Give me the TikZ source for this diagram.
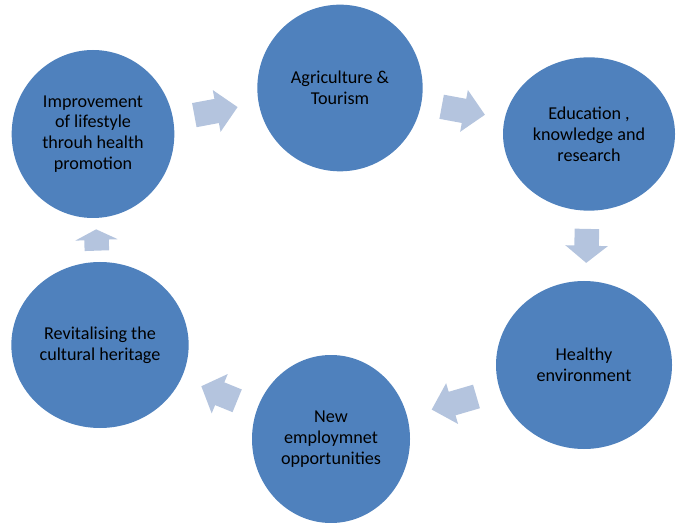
\documentclass[tikz,border=0pt]{standalone}
\usepackage{fontspec}
\setmainfont{Carlito}
\usetikzlibrary{shapes.geometric,shapes.arrows}
\definecolor{circblue}{HTML}{4F81BD}
\definecolor{arrblue}{HTML}{B4C4DE}
\begin{document}
\begin{tikzpicture}[x=0.75pt,y=-0.75pt,
  stage/.style={ellipse,fill=circblue,inner sep=0pt,align=center,font=\fontsize{13.6}{15.6}\selectfont},
  cyc/.style 2 args={single arrow,fill=arrblue,inner xsep=0pt,inner ysep=9pt,minimum width=31.5pt,
    single arrow head extend=6.75pt,minimum height=#1,single arrow tip angle=#2,pos=0.43,sloped,allow upside down}]
\useasboundingbox (0,0) rectangle (680,523);
% Draw the six stages of the cycle
\node[stage,minimum width=122pt,minimum height=126pt] (imp) at (93,134) {Improvement\\of lifestyle\\throuh health\\promotion};
\node[stage,minimum width=124pt,minimum height=125pt] (agr) at (340,88) {Agriculture \&\\Tourism};
\node[stage,minimum width=129pt,minimum height=115pt] (edu) at (589,134) {Education ,\\knowledge and\\research};
\node[stage,minimum width=132pt,minimum height=126pt] (hea) at (584,365) {Healthy\\environment};
\node[stage,minimum width=118.5pt,minimum height=126pt] (new) at (331,439) {New\\employmnet\\opportunities};
\node[stage,minimum width=133pt,minimum height=124.5pt] (rev) at (100,345) {Revitalising the\\cultural heritage};

% Block arrows in the gaps
\path (imp) -- node[cyc={33pt}{90}] (a1) {} (agr);
\path (agr) -- node[cyc={33pt}{90}] (a2) {} (edu);
\path (edu) -- node[cyc={25.5pt}{102}] (a3) {} (hea);
\path (hea) -- node[cyc={35pt}{90}] (a4) {} (new);
\path (new) -- node[cyc={29pt}{94}] (a5) {} (rev);
\path (rev) -- node[cyc={16pt}{127}] (a6) {} (imp);
\end{tikzpicture}
\end{document}
